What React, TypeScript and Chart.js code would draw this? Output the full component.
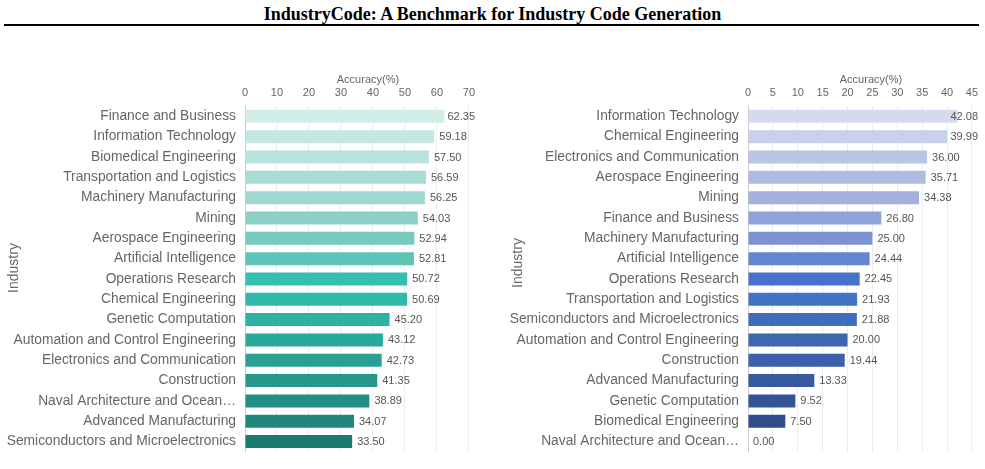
import React, { useEffect, useRef } from "react";
import { Chart, registerables } from "chart.js";

Chart.register(...registerables);

const FONT = "'Liberation Sans', Arial, Helvetica, sans-serif";

// Left panel: accuracy per industry
const leftCategories = [
  "Finance and Business",
  "Information Technology",
  "Biomedical Engineering",
  "Transportation and Logistics",
  "Machinery Manufacturing",
  "Mining",
  "Aerospace Engineering",
  "Artificial Intelligence",
  "Operations Research",
  "Chemical Engineering",
  "Genetic Computation",
  "Automation and Control Engineering",
  "Electronics and Communication",
  "Construction",
  "Naval Architecture and Ocean Engineering",
  "Advanced Manufacturing",
  "Semiconductors and Microelectronics",
];
const leftValues = [
  62.35, 59.18, 57.5, 56.59, 56.25, 54.03, 52.94, 52.81, 50.72, 50.69, 45.2,
  43.12, 42.73, 41.35, 38.89, 34.07, 33.5,
];
const leftColors = [
  "#d2ece7", "#c5e7e1", "#b8e2db", "#abdcd4", "#9fd8ce", "#8bd1c5",
  "#76cbbd", "#5dc5b5", "#33c0b1", "#2fbaab", "#2db2a3", "#2aa99a",
  "#28a092", "#26978a", "#229084", "#1f877c", "#1b7a70",
];
const leftTicksMax = 70;
const leftTicksStep = 10;

// Right panel: accuracy per industry
const rightCategories = [
  "Information Technology",
  "Chemical Engineering",
  "Electronics and Communication",
  "Aerospace Engineering",
  "Mining",
  "Finance and Business",
  "Machinery Manufacturing",
  "Artificial Intelligence",
  "Operations Research",
  "Transportation and Logistics",
  "Semiconductors and Microelectronics",
  "Automation and Control Engineering",
  "Construction",
  "Advanced Manufacturing",
  "Genetic Computation",
  "Biomedical Engineering",
  "Naval Architecture and Ocean Engineering",
];
const rightValues = [
  42.08, 39.99, 36.0, 35.71, 34.38, 26.8, 25.0, 24.44, 22.45, 21.93, 21.88,
  20.0, 19.44, 13.33, 9.52, 7.5, 0.0,
];
const rightColors = [
  "#d5dbee", "#c8d0ea", "#bac4e5", "#afbbe1", "#a3b1dd", "#90a3d8",
  "#7b93d3", "#6685cf", "#4673c9", "#4472c4", "#416cbc", "#3e66b3",
  "#3b61aa", "#3759a0", "#335397", "#2f4c8c", "#2b4682",
];
const rightTicksMax = 45;
const rightTicksStep = 5;

const CANVAS_TOP = 50;
const Y_AXIS_WIDTH = 244;

function shorten(name: string): string {
  if (name.length <= 36) return name;
  const words = name.split(" ");
  let out = "";
  for (const w of words) {
    const next = out ? out + " " + w : w;
    if (next.length > 28) break;
    out = next;
  }
  return out + "…";
}

const valueLabels = {
  id: "valueLabels",
  afterDatasetsDraw(chart: any) {
    const ctx = chart.ctx;
    const meta = chart.getDatasetMeta(0);
    const data = chart.data.datasets[0].data as number[];
    ctx.save();
    ctx.font = `11px ${FONT}`;
    ctx.fillStyle = "#555";
    ctx.textBaseline = "middle";
    ctx.textAlign = "left";
    meta.data.forEach((bar: any, i: number) => {
      const text = data[i].toFixed(2);
      const w = ctx.measureText(text).width;
      const x = Math.min(bar.x + 5, chart.width - 7 - w);
      ctx.fillText(text, x, bar.y + 0.5);
    });
    ctx.restore();
  },
};

// Axis names: "Industry" rotated at the far left, "Accuracy(%)" above the top ticks
const axisNames = {
  id: "axisNames",
  afterDraw(chart: any) {
    const ctx = chart.ctx;
    const opts = chart.options.plugins.axisNames;
    const area = chart.chartArea;
    ctx.save();
    ctx.fillStyle = "#666";
    ctx.textAlign = "center";
    ctx.textBaseline = "middle";
    ctx.font = `11px ${FONT}`;
    ctx.fillText("Accuracy(%)", (area.left + area.right) / 2 + 11, area.top - 26);
    ctx.translate(opts.x, opts.y);
    ctx.rotate(-Math.PI / 2);
    ctx.font = `14px ${FONT}`;
    ctx.fillText("Industry", 0, 0);
    ctx.restore();
  },
};

function BarPanel(props: {
  categories: string[];
  values: number[];
  colors: string[];
  max: number;
  step: number;
  left: number;
  titleX: number;
  titleY: number;
}) {
  const ref = useRef<HTMLCanvasElement>(null);
  useEffect(() => {
    if (!ref.current) return;
    const chart = new Chart(ref.current, {
      type: "bar",
      data: {
        labels: props.categories,
        datasets: [
          {
            data: props.values,
            backgroundColor: props.colors,
            borderWidth: 0,
            categoryPercentage: 0.8,
            barPercentage: 0.8,
          },
        ],
      },
      options: {
        indexAxis: "y",
        animation: false,
        responsive: false,
        layout: { padding: { left: 1, right: 13, top: 29, bottom: 17 } },
        plugins: {
          legend: { display: false },
          tooltip: { enabled: false },
          axisNames: { x: props.titleX, y: props.titleY },
        } as any,
        scales: {
          x: {
            position: "top",
            min: 0,
            max: props.max,
            ticks: {
              stepSize: props.step,
              color: "#666",
              padding: 7,
              font: { size: 11, family: FONT, lineHeight: 1.2 },
            },
            grid: { color: "#ececec", drawTicks: false },
            border: { display: false },
          },
          y: {
            afterFit: (scale: any) => {
              scale.width = Y_AXIS_WIDTH;
            },
            ticks: {
              color: "#666",
              padding: 9,
              autoSkip: false,
              font: { size: 13.8, family: FONT },
              callback: (_v: any, i: number) => shorten(props.categories[i]),
            },
            grid: { display: false, drawTicks: false },
            border: { display: true, color: "#cccccc" },
          },
        },
      },
      plugins: [valueLabels, axisNames],
    });
    return () => chart.destroy();
  }, []);
  return (
    <canvas
      ref={ref}
      width={482}
      height={469 - CANVAS_TOP}
      style={{
        position: "absolute",
        left: props.left,
        top: CANVAS_TOP,
        width: 482,
        height: 469 - CANVAS_TOP,
      }}
    />
  );
}

export default function App() {
  return (
    <div
      style={{
        position: "fixed",
        left: 0,
        top: 0,
        width: 985,
        height: 469,
        background: "#fff",
        overflow: "hidden",
      }}
    >
      <div
        style={{
          position: "absolute",
          left: 0,
          width: 985,
          top: 4,
          textAlign: "center",
          fontFamily: "'Liberation Serif', 'Times New Roman', serif",
          fontWeight: "bold",
          fontSize: 18,
          lineHeight: "20px",
          color: "#000",
        }}
      >
        IndustryCode: A Benchmark for Industry Code Generation
      </div>
      <div
        style={{
          position: "absolute",
          left: 4,
          width: 975,
          top: 24,
          height: 2,
          background: "#000",
        }}
      />
      <BarPanel
        categories={leftCategories}
        values={leftValues}
        colors={leftColors}
        max={leftTicksMax}
        step={leftTicksStep}
        left={0}
        titleX={14}
        titleY={268 - CANVAS_TOP}
      />
      <BarPanel
        categories={rightCategories}
        values={rightValues}
        colors={rightColors}
        max={rightTicksMax}
        step={rightTicksStep}
        left={503}
        titleX={15}
        titleY={263 - CANVAS_TOP}
      />
    </div>
  );
}
